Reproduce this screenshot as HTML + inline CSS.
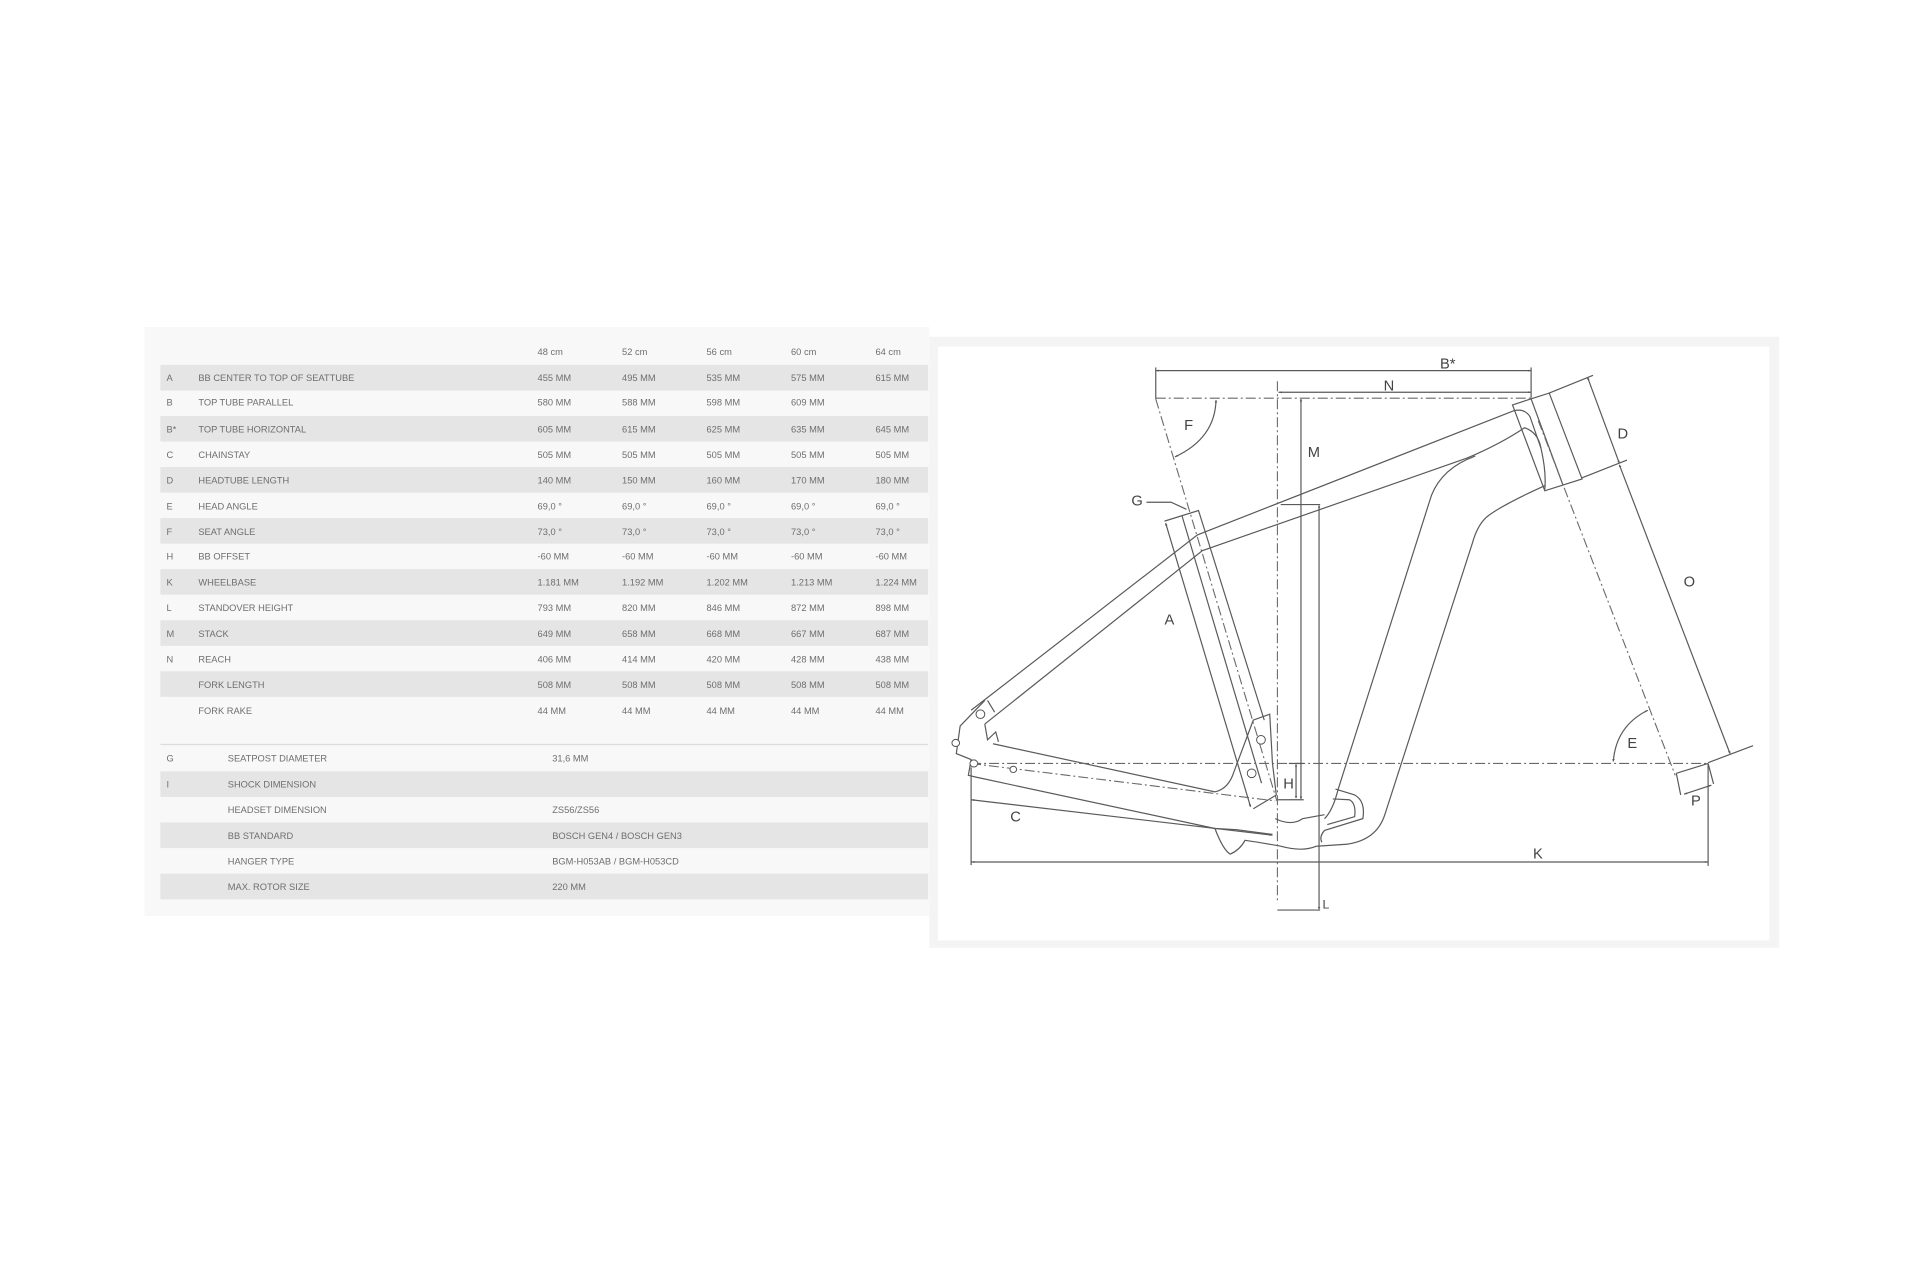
<!DOCTYPE html>
<html><head><meta charset="utf-8"><style>
html,body{margin:0;padding:0;background:#fff;width:1920px;height:1280px;overflow:hidden}
svg{display:block}
.t{font-family:"Liberation Sans Narrow","Liberation Sans",sans-serif;font-size:7.6px;fill:#6e6e6e}
.l{font-family:"Liberation Sans",sans-serif;font-size:12px;fill:#444}
.s{fill:none;stroke:#5a5a5a;stroke-width:1.2}
.d{fill:none;stroke:#6a6a6a;stroke-width:1.1;stroke-dasharray:10 3 2 3}
</style></head><body>
<svg width="1920" height="1280" viewBox="0 0 1568 1045.3" xmlns="http://www.w3.org/2000/svg">
<defs>
<marker id="a" viewBox="0 0 10 10" refX="10" refY="5" markerWidth="6" markerHeight="6" orient="auto-start-reverse" markerUnits="userSpaceOnUse"><path d="M0,1 L10,5 L0,9z" fill="#555"/></marker>
</defs>
<!-- table panel -->
<rect x="118" y="267" width="641" height="481" fill="#f8f8f8"/>
<g>
<rect x="131" y="298" width="627" height="20.9" fill="#e5e5e5"/>
<rect x="131" y="339.7" width="627" height="20.9" fill="#e5e5e5"/>
<rect x="131" y="381.4" width="627" height="20.9" fill="#e5e5e5"/>
<rect x="131" y="423.1" width="627" height="20.9" fill="#e5e5e5"/>
<rect x="131" y="464.8" width="627" height="20.9" fill="#e5e5e5"/>
<rect x="131" y="506.5" width="627" height="20.9" fill="#e5e5e5"/>
<rect x="131" y="548.2" width="627" height="20.9" fill="#e5e5e5"/>
<line x1="131" y1="608" x2="758" y2="608" stroke="#dcdcdc"/>
<rect x="131" y="629.9" width="627" height="20.9" fill="#e5e5e5"/>
<rect x="131" y="671.7" width="627" height="20.9" fill="#e5e5e5"/>
<rect x="131" y="713.5" width="627" height="20.9" fill="#e5e5e5"/>
</g>
<g class="t">
<text x="439" y="290">48 cm</text><text x="508" y="290">52 cm</text><text x="577" y="290">56 cm</text><text x="646" y="290">60 cm</text><text x="715" y="290">64 cm</text>
<text x="136" y="311">A</text><text x="162" y="311">BB CENTER TO TOP OF SEATTUBE</text><text x="439" y="311">455 MM</text><text x="508" y="311">495 MM</text><text x="577" y="311">535 MM</text><text x="646" y="311">575 MM</text><text x="715" y="311">615 MM</text>
<text x="136" y="331">B</text><text x="162" y="331">TOP TUBE PARALLEL</text><text x="439" y="331">580 MM</text><text x="508" y="331">588 MM</text><text x="577" y="331">598 MM</text><text x="646" y="331">609 MM</text>
<text x="136" y="353">B*</text><text x="162" y="353">TOP TUBE HORIZONTAL</text><text x="439" y="353">605 MM</text><text x="508" y="353">615 MM</text><text x="577" y="353">625 MM</text><text x="646" y="353">635 MM</text><text x="715" y="353">645 MM</text>
<text x="136" y="374">C</text><text x="162" y="374">CHAINSTAY</text><text x="439" y="374">505 MM</text><text x="508" y="374">505 MM</text><text x="577" y="374">505 MM</text><text x="646" y="374">505 MM</text><text x="715" y="374">505 MM</text>
<text x="136" y="395">D</text><text x="162" y="395">HEADTUBE LENGTH</text><text x="439" y="395">140 MM</text><text x="508" y="395">150 MM</text><text x="577" y="395">160 MM</text><text x="646" y="395">170 MM</text><text x="715" y="395">180 MM</text>
<text x="136" y="416">E</text><text x="162" y="416">HEAD ANGLE</text><text x="439" y="416">69,0 °</text><text x="508" y="416">69,0 °</text><text x="577" y="416">69,0 °</text><text x="646" y="416">69,0 °</text><text x="715" y="416">69,0 °</text>
<text x="136" y="437">F</text><text x="162" y="437">SEAT ANGLE</text><text x="439" y="437">73,0 °</text><text x="508" y="437">73,0 °</text><text x="577" y="437">73,0 °</text><text x="646" y="437">73,0 °</text><text x="715" y="437">73,0 °</text>
<text x="136" y="457">H</text><text x="162" y="457">BB OFFSET</text><text x="439" y="457">-60 MM</text><text x="508" y="457">-60 MM</text><text x="577" y="457">-60 MM</text><text x="646" y="457">-60 MM</text><text x="715" y="457">-60 MM</text>
<text x="136" y="478">K</text><text x="162" y="478">WHEELBASE</text><text x="439" y="478">1.181 MM</text><text x="508" y="478">1.192 MM</text><text x="577" y="478">1.202 MM</text><text x="646" y="478">1.213 MM</text><text x="715" y="478">1.224 MM</text>
<text x="136" y="499">L</text><text x="162" y="499">STANDOVER HEIGHT</text><text x="439" y="499">793 MM</text><text x="508" y="499">820 MM</text><text x="577" y="499">846 MM</text><text x="646" y="499">872 MM</text><text x="715" y="499">898 MM</text>
<text x="136" y="520">M</text><text x="162" y="520">STACK</text><text x="439" y="520">649 MM</text><text x="508" y="520">658 MM</text><text x="577" y="520">668 MM</text><text x="646" y="520">667 MM</text><text x="715" y="520">687 MM</text>
<text x="136" y="541">N</text><text x="162" y="541">REACH</text><text x="439" y="541">406 MM</text><text x="508" y="541">414 MM</text><text x="577" y="541">420 MM</text><text x="646" y="541">428 MM</text><text x="715" y="541">438 MM</text>
<text x="162" y="562">FORK LENGTH</text><text x="439" y="562">508 MM</text><text x="508" y="562">508 MM</text><text x="577" y="562">508 MM</text><text x="646" y="562">508 MM</text><text x="715" y="562">508 MM</text>
<text x="162" y="583">FORK RAKE</text><text x="439" y="583">44 MM</text><text x="508" y="583">44 MM</text><text x="577" y="583">44 MM</text><text x="646" y="583">44 MM</text><text x="715" y="583">44 MM</text>
<text x="136" y="622">G</text><text x="186" y="622">SEATPOST DIAMETER</text><text x="451" y="622">31,6 MM</text>
<text x="136" y="643">I</text><text x="186" y="643">SHOCK DIMENSION</text>
<text x="186" y="664">HEADSET DIMENSION</text><text x="451" y="664">ZS56/ZS56</text>
<text x="186" y="685">BB STANDARD</text><text x="451" y="685">BOSCH GEN4 / BOSCH GEN3</text>
<text x="186" y="706">HANGER TYPE</text><text x="451" y="706">BGM-H053AB / BGM-H053CD</text>
<text x="186" y="727">MAX. ROTOR SIZE</text><text x="451" y="727">220 MM</text>
</g>
<!-- diagram panel -->
<rect x="759" y="275" width="694" height="499" fill="#f4f4f4"/>
<rect x="766" y="283" width="679" height="485" fill="#fff"/>
<g transform="translate(759.5,269.5) scale(0.4475,0.3218)">
<g vector-effect="non-scaling-stroke">
<!-- dimension lines -->
<line class="s" vector-effect="non-scaling-stroke" x1="412" y1="103" x2="1097" y2="103" marker-start="url(#a)" marker-end="url(#a)"/>
<line class="s" vector-effect="non-scaling-stroke" x1="412" y1="95" x2="412" y2="175"/>
<line class="s" vector-effect="non-scaling-stroke" x1="1097" y1="95" x2="1097" y2="172"/>
<line class="s" vector-effect="non-scaling-stroke" x1="636" y1="158" x2="1097" y2="158" marker-start="url(#a)" marker-end="url(#a)"/>
<line class="d" vector-effect="non-scaling-stroke" x1="412" y1="173" x2="1100" y2="173"/>
<line class="d" vector-effect="non-scaling-stroke" x1="634" y1="130" x2="634" y2="1450"/>
<line class="s" vector-effect="non-scaling-stroke" x1="677" y1="175" x2="677" y2="1190" marker-start="url(#a)" marker-end="url(#a)"/>
<line class="d" vector-effect="non-scaling-stroke" x1="412" y1="175" x2="633" y2="1195"/>
<path class="s" vector-effect="non-scaling-stroke" d="M522,178 Q520,275 447,322" marker-start="url(#a)" marker-end="url(#a)"/>
<!-- top tube & head tube -->
<path class="s" vector-effect="non-scaling-stroke" d="M75,965 L488,520 L1065,205 Q1085,198 1095,220 L1115,300 Q1125,360 1122,405"/>
<path class="s" vector-effect="non-scaling-stroke" d="M100,1000 L497,560 L980,325 Q1040,290 1085,248 Q1110,260 1115,300"/>
<path class="s" vector-effect="non-scaling-stroke" d="M1063,190 L1130,160 L1190,378 L1122,408 Z"/>
<line class="s" vector-effect="non-scaling-stroke" x1="1097" y1="175" x2="1155" y2="393"/>
<line class="s" vector-effect="non-scaling-stroke" x1="1130" y1="160" x2="1210" y2="115"/>
<line class="s" vector-effect="non-scaling-stroke" x1="1190" y1="375" x2="1272" y2="330"/>
<line class="s" vector-effect="non-scaling-stroke" x1="1200" y1="120" x2="1258" y2="338" marker-start="url(#a)" marker-end="url(#a)"/>
<line class="s" vector-effect="non-scaling-stroke" x1="1258" y1="342" x2="1460" y2="1075" marker-start="url(#a)" marker-end="url(#a)"/>
<line class="s" vector-effect="non-scaling-stroke" x1="1420" y1="1098" x2="1502" y2="1055"/>
<line class="d" vector-effect="non-scaling-stroke" x1="1110" y1="230" x2="1360" y2="1130"/>
<!-- down tube -->
<path class="s" vector-effect="non-scaling-stroke" d="M995,320 Q935,350 915,420 L745,1165 Q735,1220 720,1240"/>
<path class="s" vector-effect="non-scaling-stroke" d="M1122,395 Q1050,440 1020,470 Q1000,490 990,540 L830,1230 Q815,1295 760,1305 L705,1310"/>
<path class="s" vector-effect="non-scaling-stroke" d="M740,1165 L775,1180 Q795,1195 790,1240 L720,1270 Q710,1285 715,1300"/>
<path class="s" vector-effect="non-scaling-stroke" d="M735,1190 L765,1192 Q778,1200 775,1235 L725,1255"/>
<!-- seat tube -->
<path class="s" vector-effect="non-scaling-stroke" d="M428,485 L490,458 L610,990"/>
<line class="s" vector-effect="non-scaling-stroke" x1="460" y1="472" x2="605" y2="1150"/>
<line class="s" vector-effect="non-scaling-stroke" x1="430" y1="490" x2="585" y2="1210" marker-start="url(#a)" marker-end="url(#a)"/>
<path class="s" vector-effect="non-scaling-stroke" d="M395,437 L440,437 L468,455"/>
<!-- link plate -->
<path class="s" vector-effect="non-scaling-stroke" d="M555,1120 L590,990 L620,975 L625,1100 L632,1180 L590,1215"/>
<!-- chainstays / seatstays -->
<path class="s" vector-effect="non-scaling-stroke" d="M100,940 L55,1005 L48,1075 L75,1090 L70,1130 L85,1135 L520,1265 L560,1268 L625,1280"/>
<path class="s" vector-effect="non-scaling-stroke" d="M115,1050 L520,1172 Q545,1165 555,1120"/>
<path class="s" vector-effect="non-scaling-stroke" d="M100,1000 L105,1040 L120,1020 L125,1045"/>
<path class="s" vector-effect="non-scaling-stroke" d="M520,1265 Q535,1320 548,1330 Q565,1320 575,1295 Q600,1300 640,1310 Q680,1325 705,1310"/>
<path class="s" vector-effect="non-scaling-stroke" d="M630,1240 Q660,1260 680,1240 L720,1230"/>
<line class="s" vector-effect="non-scaling-stroke" x1="105" y1="940" x2="118" y2="970"/>
<line class="d" vector-effect="non-scaling-stroke" x1="75" y1="1100" x2="630" y2="1195"/>
<line class="s" vector-effect="non-scaling-stroke" x1="75" y1="1192" x2="625" y2="1282" marker-start="url(#a)" marker-end="url(#a)"/>
<line class="d" vector-effect="non-scaling-stroke" x1="75" y1="1100" x2="1420" y2="1100"/>
<path class="s" vector-effect="non-scaling-stroke" d="M1310,965 Q1252,1005 1247,1095" marker-start="url(#a)" marker-end="url(#a)"/>
<!-- fork bottom / P -->
<line class="s" vector-effect="non-scaling-stroke" x1="1362" y1="1125" x2="1420" y2="1100"/>
<line class="s" vector-effect="non-scaling-stroke" x1="1362" y1="1125" x2="1370" y2="1180"/>
<line class="s" vector-effect="non-scaling-stroke" x1="1420" y1="1100" x2="1430" y2="1152"/>
<line class="s" vector-effect="non-scaling-stroke" x1="1376" y1="1178" x2="1426" y2="1155" marker-start="url(#a)" marker-end="url(#a)"/>
<!-- K -->
<line class="s" vector-effect="non-scaling-stroke" x1="75" y1="1350" x2="1420" y2="1350" marker-start="url(#a)" marker-end="url(#a)"/>
<line class="s" vector-effect="non-scaling-stroke" x1="75" y1="1110" x2="75" y2="1358"/>
<line class="s" vector-effect="non-scaling-stroke" x1="1420" y1="1100" x2="1420" y2="1360"/>
<!-- H -->
<line class="s" vector-effect="non-scaling-stroke" x1="668" y1="1102" x2="668" y2="1188" marker-start="url(#a)" marker-end="url(#a)"/>
<line class="s" vector-effect="non-scaling-stroke" x1="655" y1="1100" x2="682" y2="1100"/>
<line class="s" vector-effect="non-scaling-stroke" x1="635" y1="1192" x2="682" y2="1192"/>
<!-- L -->
<line class="s" vector-effect="non-scaling-stroke" x1="710" y1="445" x2="710" y2="1470" marker-start="url(#a)" marker-end="url(#a)"/>
<line class="s" vector-effect="non-scaling-stroke" x1="640" y1="443" x2="712" y2="443"/>
<line class="s" vector-effect="non-scaling-stroke" x1="634" y1="1472" x2="712" y2="1472"/>
<!-- dots -->
<g fill="#fff" stroke="#555">
<ellipse vector-effect="non-scaling-stroke" cx="92" cy="975" rx="8" ry="11"/>
<ellipse vector-effect="non-scaling-stroke" cx="47" cy="1048" rx="7" ry="9"/>
<ellipse vector-effect="non-scaling-stroke" cx="80" cy="1100" rx="7" ry="9"/>
<ellipse vector-effect="non-scaling-stroke" cx="152" cy="1115" rx="6" ry="8"/>
<ellipse vector-effect="non-scaling-stroke" cx="604" cy="1040" rx="8" ry="11"/>
<ellipse vector-effect="non-scaling-stroke" cx="587" cy="1125" rx="8" ry="11"/>
</g>
</g>
</g>
<g class="l">
<text x="1176" y="301">B*</text><text x="1130" y="319">N</text><text x="967" y="351">F</text><text x="1068" y="373">M</text>
<text x="1321" y="358">D</text><text x="924" y="413">G</text><text x="951" y="510">A</text><text x="1375" y="479">O</text>
<text x="1329" y="611">E</text><text x="1048" y="644">H</text><text x="825" y="671">C</text><text x="1381" y="658">P</text>
<text x="1252" y="701">K</text><text x="1080" y="742" style="font-size:10px">L</text>
</g>
</svg>
</body></html>
